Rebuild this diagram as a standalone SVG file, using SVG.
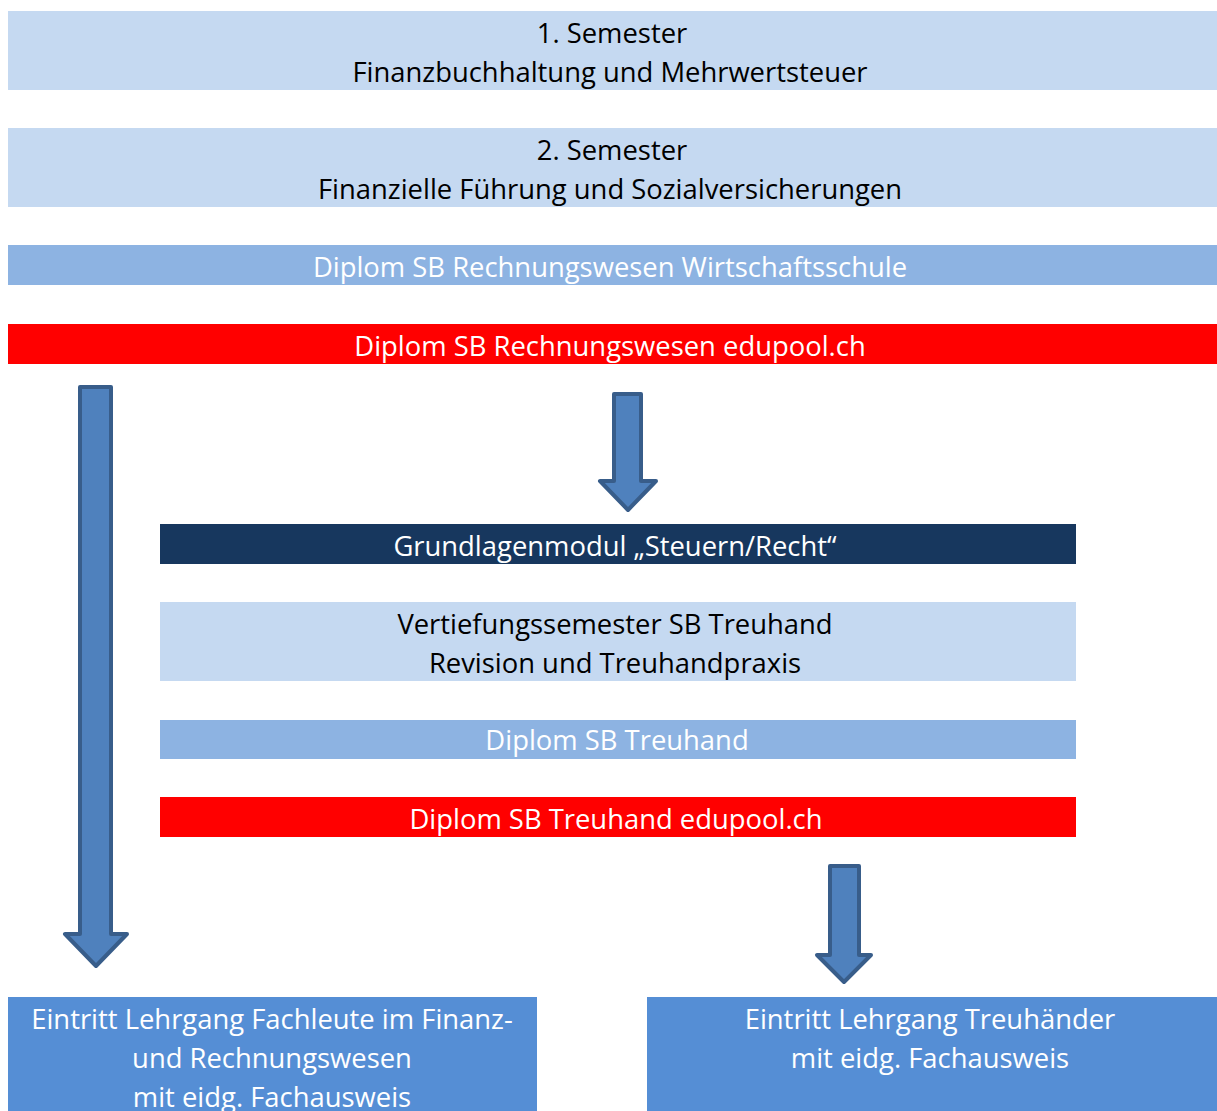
<svg xmlns="http://www.w3.org/2000/svg" width="1217" height="1111" viewBox="0 0 1217 1111">
<style>
text{font-family:"Open Sans","Noto Sans","Liberation Sans",sans-serif;font-size:27.4px;text-anchor:middle}
.d{fill:#000}.w{fill:#fff}
.light{fill:#C5D9F1}.mid{fill:#8DB3E2}.red{fill:#FF0000}.navy{fill:#17375E}.blue{fill:#558ED5}
.arrow{fill:#4F81BD;stroke:#385D8A;stroke-width:4;stroke-linejoin:round}
</style>
<rect width="1217" height="1111" fill="#fff"/>
<g id="sem1"><rect class="light" x="8" y="11" width="1209" height="79"/><text class="d" x="612" y="43">1. Semester</text><text class="d" x="610" y="82">Finanzbuchhaltung und Mehrwertsteuer</text></g>
<g id="sem2"><rect class="light" x="8" y="128" width="1209" height="79"/><text class="d" x="612" y="160">2. Semester</text><text class="d" x="610" y="199">Finanzielle Führung und Sozialversicherungen</text></g>
<g id="dipl-ws"><rect class="mid" x="8" y="245" width="1209" height="40"/><text class="w" x="610" y="277">Diplom SB Rechnungswesen Wirtschaftsschule</text></g>
<g id="dipl-edu"><rect class="red" x="8" y="324" width="1209" height="40"/><text class="w" x="610" y="356">Diplom SB Rechnungswesen edupool.ch</text></g>
<g id="grund"><rect class="navy" x="160" y="524" width="916" height="40"/><text class="w" x="615" y="556">Grundlagenmodul „Steuern/Recht“</text></g>
<g id="vert"><rect class="light" x="160" y="602" width="916" height="79"/><text class="d" x="615" y="634">Vertiefungssemester SB Treuhand</text><text class="d" x="615" y="673">Revision und Treuhandpraxis</text></g>
<g id="dipl-th"><rect class="mid" x="160" y="720" width="916" height="39"/><text class="w" x="617" y="750">Diplom SB Treuhand</text></g>
<g id="dipl-th-edu"><rect class="red" x="160" y="797" width="916" height="40"/><text class="w" x="616" y="829">Diplom SB Treuhand edupool.ch</text></g>
<g id="fa-fr"><rect class="blue" x="8" y="997" width="529" height="120"/><text class="w" x="272" y="1029">Eintritt Lehrgang Fachleute im Finanz-</text><text class="w" x="272" y="1068">und Rechnungswesen</text><text class="w" x="272" y="1107">mit eidg. Fachausweis</text></g>
<g id="fa-th"><rect class="blue" x="647" y="997" width="570" height="120"/><text class="w" x="930" y="1029">Eintritt Lehrgang Treuhänder</text><text class="w" x="930" y="1068">mit eidg. Fachausweis</text></g>
<g id="connectors">
<path class="arrow" d="M80,387 H111 V934 H127 L96,966 L65,934 H80 Z"/>
<path class="arrow" d="M614,394 H641 V481 H656 L628,510 L600,481 H614 Z"/>
<path class="arrow" d="M830,866 H859 V955 H871 L844,982 L817,955 H830 Z"/>
</g>
</svg>
